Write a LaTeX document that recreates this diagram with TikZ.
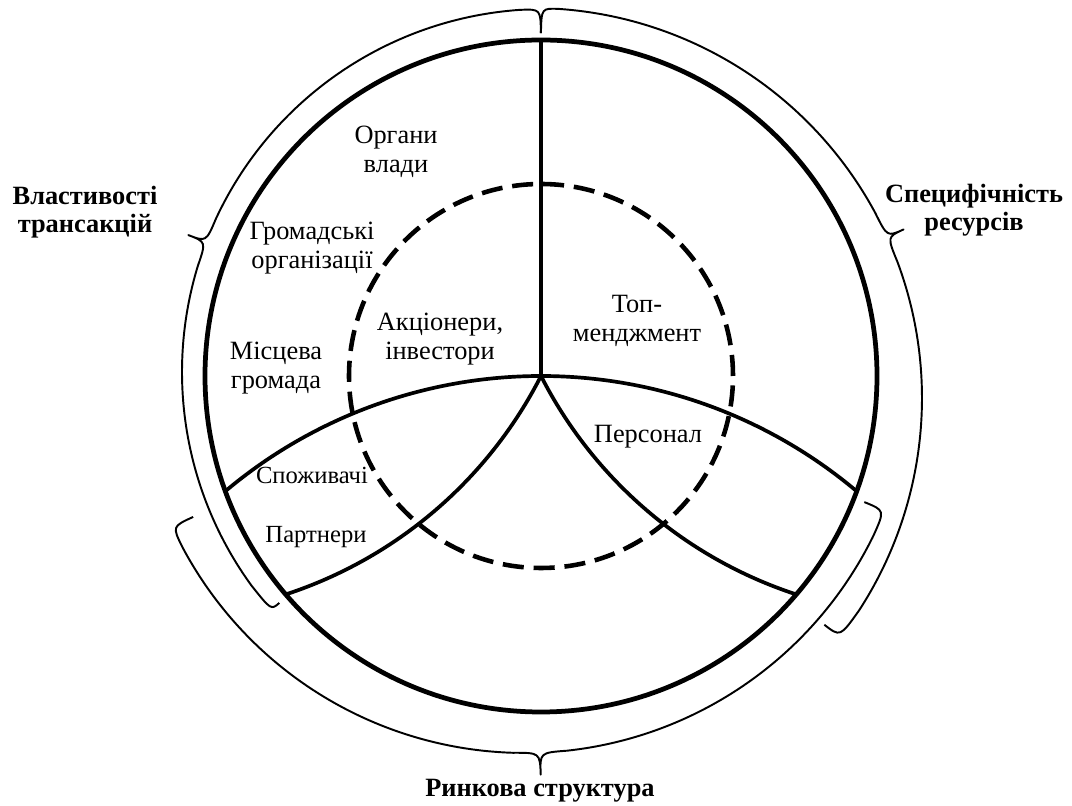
\documentclass[tikz,border=0pt]{standalone}
\usepackage{fontspec}
\setmainfont{Liberation Serif}
\usetikzlibrary{calc}

\begin{document}
\begin{tikzpicture}[x=0.01cm, y=0.01cm,
    rim/.style={line width=1.35pt},
    core/.style={line width=1.3pt, dash pattern=on 6pt off 2.8pt},
    divider/.style={line width=1.05pt},
    bracket/.style={line width=0.55pt, line join=round},
    label/.style={inner sep=0pt, align=center, font=\fontsize{7.5}{8.2}\selectfont},
    smalllabel/.style={inner sep=0pt, align=center, font=\fontsize{7}{8}\selectfont},
    factor/.style={inner sep=0pt, align=center, font=\fontsize{7.5}{8}\selectfont\bfseries}]
  \useasboundingbox (0,0) rectangle (1072,806);

  % centre of the circle
  \coordinate (hub) at (541,430);
  \path (hub) ++(90:336) coordinate (top);

  % outer circle and dashed inner circle
  \draw[rim] (hub) circle[radius=336];
  \draw[core] (hub) circle[radius=192];

  % dividers
  \draw[divider] (hub) -- (top);
  \draw[divider] (hub) arc[start angle=90, end angle=130, radius=490];
  \draw[divider] (hub) arc[start angle=90, end angle=50, radius=490];
  \draw[divider] (hub) arc[start angle=333, end angle=288.2, radius=440];
  \draw[divider] (hub) arc[start angle=207, end angle=251.8, radius=440];

  % braces
  \draw[bracket, shift={(545,434)}] (90.7:339) .. controls (90.7:363) .. (94:363)
    arc[start angle=94, end angle=155, radius=363]
    .. controls (159:363) .. (159:382) .. controls (159:363) .. (163:363)
    arc[start angle=163, end angle=216, radius=363]
    .. controls (221:363) .. (221:352);
  \draw[bracket, shift={(532,408)}] (-37.8:370) .. controls (-37.8:390) .. (-33:390)
    arc[start angle=-33, end angle=20.4, radius=390]
    .. controls (24.4:390) .. (24.4:408) .. controls (24.4:390) .. (28.4:390)
    arc[start angle=28.4, end angle=86, radius=390]
    .. controls (88.6:390) .. (88.6:365);
  \draw[bracket, shift={(525,441)}] (204.6:365) .. controls (204.6:388) .. (208:388)
    arc[start angle=208, end angle=268.2, radius=388]
    .. controls (272.2:388) .. (272.2:410) .. controls (272.2:388) .. (276.2:388)
    arc[start angle=276.2, end angle=334, radius=388]
    .. controls (338:388) .. (338:366);

  % stakeholders
  \node[label] (organy) at (396,654) {Органи\\влади};
  \node[label] (hromadski) at (312,558) {Громадські\\організації};
  \node[label] (hromada) at (276,438) {Місцева\\громада};
  \node[label] (aktsionery) at (440,467) {Акціонери,\\інвестори};
  \node[label] (top) at (637,485) {Топ-\\менджмент};
  \node[label] (personal) at (648,369) {Персонал};
  \node[smalllabel] (spozhyvachi) at (312,331) {Споживачі};
  \node[smalllabel] (partnery) at (316,269) {Партнери};

  % factors
  \node[factor] (vlastyvosti) at (85,594) {Властивості\\трансакцій};
  \node[factor] (spetsyfichnist) at (974,596) {Специфічність\\ресурсів};
  \node[factor] (rynkova) at (540,15) {Ринкова структура};
\end{tikzpicture}
\end{document}
